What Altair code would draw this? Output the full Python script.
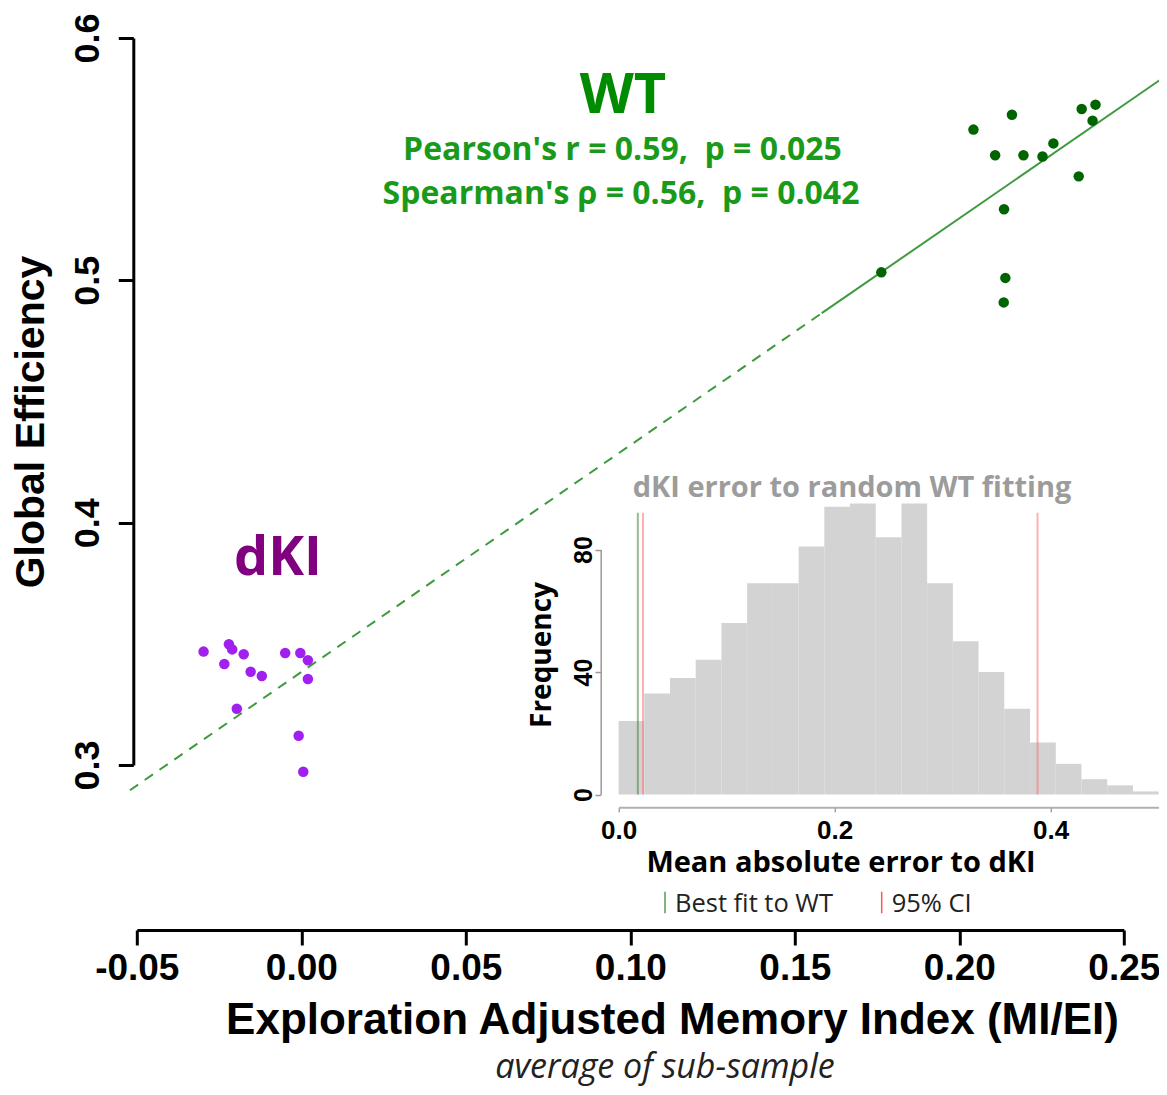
import altair as alt
import pandas as pd

# ---------------- data ----------------
wt_x = [0.2043, 0.2160, 0.2109, 0.2195, 0.2253, 0.2286, 0.2372, 0.2414,
        0.2405, 0.2363, 0.2136, 0.2140, 0.2135, 0.1763]
wt_y = [0.5622, 0.5683, 0.5516, 0.5516, 0.5511, 0.5565, 0.5707, 0.5725,
        0.5659, 0.5429, 0.5293, 0.5010, 0.4909, 0.5033]
dki_x = [-0.0297, -0.0220, -0.0210, -0.0175, -0.0234, -0.0154, -0.0120,
         -0.0049, -0.0003, 0.0020, 0.0020, -0.0196, -0.0008, 0.0006]
dki_y = [0.3468, 0.3498, 0.3477, 0.3457, 0.3417, 0.3385, 0.3367,
         0.3462, 0.3462, 0.3432, 0.3355, 0.3232, 0.3121, 0.2972]

fit_dashed_extent = [-0.0521, 0.1582]
fit_solid_extent = [0.1582, 0.2619]

hist_bin_start = [0.0000, 0.0238, 0.0476, 0.0714, 0.0952, 0.1190, 0.1429,
                  0.1667, 0.1905, 0.2143, 0.2381, 0.2619, 0.2857, 0.3095,
                  0.3333, 0.3571, 0.3810, 0.4048, 0.4286, 0.4524, 0.4762]
hist_bin_end = [0.0238, 0.0476, 0.0714, 0.0952, 0.1190, 0.1429, 0.1667,
                0.1905, 0.2143, 0.2381, 0.2619, 0.2857, 0.3095, 0.3333,
                0.3571, 0.3810, 0.4048, 0.4286, 0.4524, 0.4762, 0.5000]
hist_counts = [24, 33, 38, 44, 56, 69, 69, 81, 94, 95, 84, 95, 69, 50,
               40, 28, 17, 10, 5, 3, 1]
best_fit_error = [0.0178]
ci_bounds = [0.0226, 0.3879]
vline_top = 92

x_ticks = [-0.05, 0.0, 0.05, 0.10, 0.15, 0.20, 0.25]
y_ticks = [0.3, 0.4, 0.5, 0.6]
inset_x_ticks = [0.0, 0.2, 0.4]
inset_y_ticks = [0, 40, 80]

NB = "\u00a0"
txt_wt = "WT"
txt_pearson = "Pearson's r = 0.59," + NB + NB + "p = 0.025"
txt_spearman = "Spearman's \u03c1 = 0.56," + NB + NB + "p = 0.042"
txt_dki = "dKI"
txt_inset_title = "dKI error to random WT fitting"
txt_inset_x = "Mean absolute error to dKI"
txt_inset_y = "Frequency"
txt_leg_best = "Best fit to WT"
txt_leg_ci = "95% CI"
txt_x_title = "Exploration Adjusted Memory Index (MI/EI)"
txt_x_sub = "average of sub-sample"
txt_y_title = "Global Efficiency"

# ---------------- layout constants (pixels) ----------------
W, H = 987, 727
SANS = "Liberation Sans"
OPEN = "Open Sans"

wt_df = pd.DataFrame({"x": wt_x, "y": wt_y})
dki_df = pd.DataFrame({"x": dki_x, "y": dki_y})
hist_df = pd.DataFrame({"start": hist_bin_start, "end": hist_bin_end, "count": hist_counts})
best_df = pd.DataFrame({"v": best_fit_error})
ci_df = pd.DataFrame({"v": ci_bounds})

xs = alt.Scale(domain=[-0.05, 0.25], nice=False, zero=False)
ys = alt.Scale(domain=[0.3, 0.6], nice=False, zero=False)

x_axis = alt.Axis(values=x_ticks, format=".2f",
                  labelExpr="replace(datum.label, '\u2212', '-')",
                  offset=165, tickSize=15, tickWidth=3, domainWidth=3,
                  domainColor="black", tickColor="black",
                  labelFont=SANS, labelFontWeight="bold", labelFontSize=37,
                  labelColor="black", labelPadding=6, labelBaseline="top",
                  labelFlush=False, labelOverlap=False, grid=False, title=None)
y_axis = alt.Axis(values=y_ticks, format=".1f", offset=3.5, tickSize=15,
                  tickWidth=3, domainWidth=3, domainColor="black",
                  tickColor="black", labelFont=SANS, labelFontWeight="bold",
                  labelFontSize=36, labelColor="black", labelAngle=270,
                  labelAlign="center", labelBaseline="alphabetic",
                  labelPadding=20, labelFlush=False, labelOverlap=False,
                  grid=False, title=None)

X = alt.X("x:Q", scale=xs, axis=x_axis)
Y = alt.Y("y:Q", scale=ys, axis=y_axis)

fit_dashed = alt.Chart(wt_df).transform_regression(
    "x", "y", extent=fit_dashed_extent
).mark_line(color="#3f9a3f", strokeWidth=2, strokeDash=[10, 8], clip=False).encode(x=X, y=Y)
fit_solid = alt.Chart(wt_df).transform_regression(
    "x", "y", extent=fit_solid_extent
).mark_line(color="#3f9a3f", strokeWidth=2, clip=False).encode(x=X, y=Y)

wt_pts = alt.Chart(wt_df).mark_circle(size=110, color="#006400", opacity=1).encode(x=X, y=Y)
dki_pts = alt.Chart(dki_df).mark_circle(size=110, color="#A020F0", opacity=1).encode(x=X, y=Y)


def label(text, x, y, size, color, font=OPEN, weight="bold", align="center",
          baseline="alphabetic", angle=0, style="normal"):
    return alt.Chart(pd.DataFrame({"t": [text]})).mark_text(
        font=font, fontSize=size, fontWeight=weight, color=color, align=align,
        baseline=baseline, angle=angle, fontStyle=style
    ).encode(text="t:N", x=alt.value(x), y=alt.value(y))


texts = [
    label(txt_wt, 486.2, 75, 56, "#008B00"),
    label(txt_pearson, 485.7, 122, 32, "#1a9a1a"),
    label(txt_spearman, 484.2, 166, 32, "#1a9a1a"),
    label(txt_dki, 141.2, 537, 54, "#800080"),
    label(txt_inset_title, 715.2, 459, 29, "#9c9c9c"),
    label(txt_inset_x, 704.2, 833.7, 29, "black"),
    label(txt_inset_y, 406.2, 617, 28, "black", angle=270, baseline="middle"),
    label(txt_leg_best, 538.2, 873.7, 25.5, "#222222", weight="normal", align="left"),
    label(txt_leg_ci, 754.9, 873.7, 25.5, "#222222", weight="normal", align="left"),
    label(txt_x_title, 535.7, 996, 44, "black", font=SANS),
    label(txt_x_sub, 528.2, 1040, 34, "#222222", weight="normal", style="italic"),
    label(txt_y_title, -104.3, 384, 41, "black", font=SANS, angle=270, baseline="middle"),
]

leg_df = pd.DataFrame({"k": [0]})
leg_green = alt.Chart(leg_df).mark_rule(color="#5a9a5a", strokeWidth=1.5).encode(
    x=alt.value(528.2), y=alt.value(853.7), y2=alt.value(875.3))
leg_red = alt.Chart(leg_df).mark_rule(color="#ff5555", strokeWidth=1.5).encode(
    x=alt.value(744.9), y=alt.value(853.7), y2=alt.value(875.3))

main = alt.layer(fit_dashed, fit_solid, wt_pts, dki_pts, leg_green, leg_red, *texts)

# ---------------- inset histogram ----------------
ixs = alt.Scale(domain=[0, 0.5], range=[481.8, 1021.8], nice=False, zero=False)
iys = alt.Scale(domain=[0, 80], range=[756.5, 511.5], nice=False, zero=False)
ix_axis = alt.Axis(orient="bottom", values=inset_x_ticks, format=".1f", offset=42.3,
                   tickSize=4.5, tickWidth=1.5, domainWidth=2, domainColor="#b0b0b0",
                   tickColor="#a0a0a0", labelFont=SANS, labelFontWeight="bold",
                   labelFontSize=26, labelColor="black", labelBaseline="top",
                   labelPadding=6, labelFlush=False, labelOverlap=False,
                   grid=False, title=None)
iy_axis = alt.Axis(orient="left", values=inset_y_ticks, offset=-463.9,
                   tickSize=5.7, tickWidth=1.5, domainWidth=1.5, domainColor="#999999",
                   tickColor="#999999", labelFont=SANS, labelFontWeight="bold",
                   labelFontSize=25, labelColor="black", labelAngle=270,
                   labelAlign="center", labelBaseline="alphabetic", labelPadding=3,
                   labelFlush=False, labelOverlap=False, grid=False, title=None)

bars = alt.Chart(hist_df).mark_rect(color="#d3d3d3", clip=False).encode(
    x=alt.X("start:Q", scale=ixs, axis=ix_axis),
    x2="end:Q",
    y=alt.Y("count:Q", scale=iys, axis=iy_axis),
    y2=alt.datum(0),
)
best_line = alt.Chart(best_df).mark_rule(color="#3f7f3f", strokeWidth=2, opacity=0.55).encode(
    x=alt.X("v:Q", scale=ixs, axis=ix_axis),
    y=alt.Y(datum=0, scale=iys, axis=iy_axis),
    y2=alt.datum(vline_top),
)
ci_lines = alt.Chart(ci_df).mark_rule(color="#ff6f6f", strokeWidth=2, opacity=0.55).encode(
    x=alt.X("v:Q", scale=ixs, axis=ix_axis),
    y=alt.Y(datum=0, scale=iys, axis=iy_axis),
    y2=alt.datum(vline_top),
)
inset = alt.layer(bars, best_line, ci_lines)

chart = alt.layer(main, inset).resolve_scale(
    x="independent", y="independent"
).resolve_axis(x="independent", y="independent").properties(
    width=W, height=H,
    autosize=alt.AutoSizeParams(type="none"),
    padding={"left": 128.8, "top": 30, "right": 35, "bottom": 322},
).configure_view(stroke=None).configure_axis(grid=False)

chart.save("out.html", embed_options={"renderer": "svg", "actions": False})
